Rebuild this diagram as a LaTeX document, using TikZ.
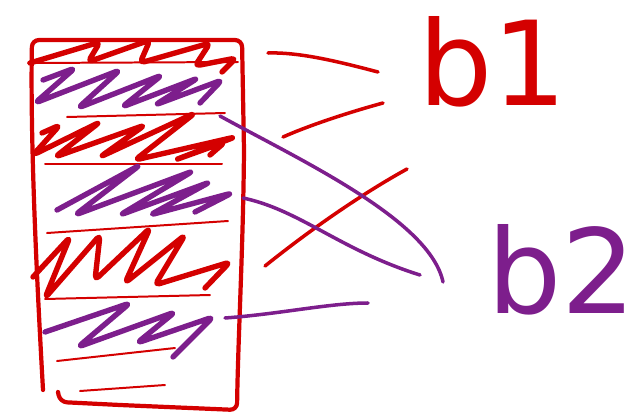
\documentclass[tikz,border=0pt]{standalone}
\usepackage{fontspec}
\setmainfont{DejaVu Sans}
\usepackage{tikz}
\definecolor{penred}{RGB}{212,0,0}
\definecolor{penpurple}{RGB}{125,30,140}
\tikzstyle{outline} = [draw=penred, line width=3.6pt, line cap=round, line join=round, rounded corners=6pt]
\tikzstyle{divider} = [draw=penred, line width=1.7pt, line cap=round]
\tikzstyle{redscribble} = [draw=penred, line width=4.6pt, line cap=round, line join=round, rounded corners=4pt]
\tikzstyle{purplescribble} = [draw=penpurple, line width=4.6pt, line cap=round, line join=round, rounded corners=4pt]
\tikzstyle{redlink} = [draw=penred, line width=3pt, line cap=round]
\tikzstyle{purplelink} = [draw=penpurple, line width=3pt, line cap=round]
\tikzstyle{handlabel} = [font=\fontsize{100}{100}\selectfont, inner sep=0pt]

\begin{document}
\begin{tikzpicture}[x=0.03cm, y=-0.03cm]
\useasboundingbox (0,0) rectangle (641,419);

% the tall box
\draw [outline] (43,390) .. controls (38,300) and (30,150) .. (32,40) -- (242,40) -- (244,150) .. controls (243,250) and (238,340) .. (237,410) -- (120,405) -- (60,402) -- (58,392);

% row dividers
\draw [divider] (28,63) -- (238,62);
\draw [divider] (67,117) -- (225,113);
\draw [divider] (45,164) -- (222,164);
\draw [divider] (47,233) -- (228,221);
\draw [divider] (45,299) -- (210,295);
\draw [divider] (57,361) -- (175,348);
\draw [divider] (80,391) -- (165,385);

% scribbled rows
\draw [redscribble] (30,63) -- (100,42) -- (88,62) -- (150,40) -- (140,63) -- (210,43) -- (195,66) -- (236,58) -- (222,72);
\draw [purplescribble] (43,80) -- (75,68) -- (35,103) -- (120,70) -- (78,108) -- (162,75) -- (122,107) -- (198,78) -- (155,105) -- (222,80) -- (200,103);
\draw [redscribble] (42,133) -- (60,125) -- (33,155) -- (100,122) -- (55,157) -- (145,125) -- (100,157) -- (195,113) -- (135,160) -- (235,137) -- (175,160) -- (225,142) -- (210,155);
\draw [purplescribble] (57,210) -- (140,165) -- (75,215) -- (193,171) -- (120,215) -- (210,182) -- (150,215) -- (232,193) -- (195,212);
\draw [redscribble] (33,277) -- (70,237) -- (45,298) -- (100,235) -- (95,280) -- (150,228) -- (125,283) -- (185,235) -- (155,285) -- (230,262) -- (205,288);
\draw [purplescribble] (45,332) -- (130,303) -- (78,347) -- (175,312) -- (137,343) -- (213,317) -- (173,357);

% lines towards the labels
\draw [redlink] (268,53) .. controls (300,52) and (340,62) .. (378,72);
\draw [redlink] (283,137) .. controls (310,125) and (350,112) .. (383,103);
\draw [redlink] (265,266) .. controls (310,230) and (360,195) .. (407,169);
\draw [purplelink] (220,116) .. controls (300,160) and (430,220) .. (443,282);
\draw [purplelink] (243,198) .. controls (300,210) and (340,250) .. (420,275);
\draw [purplelink] (225,318) .. controls (280,314) and (330,303) .. (368,303);

% labels
\node (b1) [handlabel, text=penred] at (493,62) {b1};
\node (b2) [handlabel, text=penpurple] at (562,270) {b2};
\end{tikzpicture}
\end{document}
